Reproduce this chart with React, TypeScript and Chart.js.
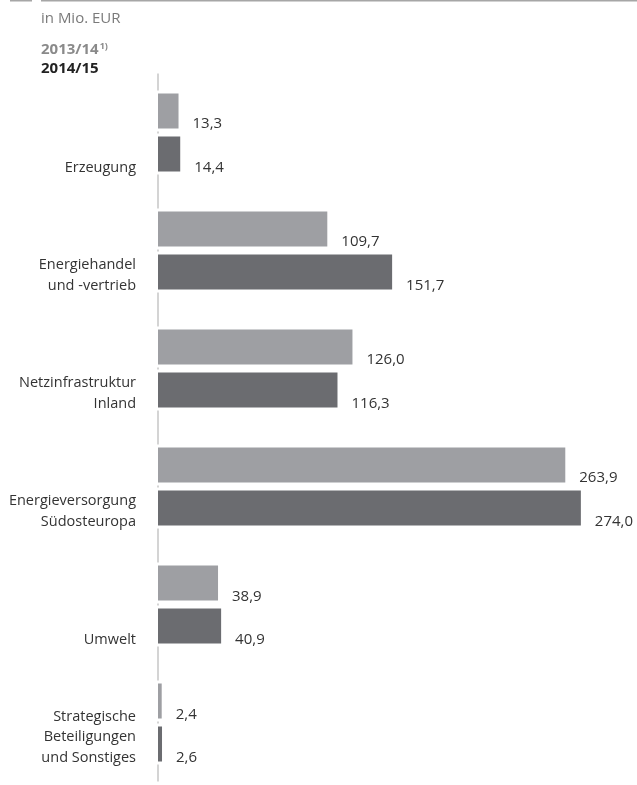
import { useEffect, useRef } from "react";
import { Chart, registerables } from "chart.js";

Chart.register(...registerables);

// Segment names (each entry is one line of the label)
const categories: string[][] = [
  ["Erzeugung"],
  ["Energiehandel", "und -vertrieb"],
  ["Netzinfrastruktur", "Inland"],
  ["Energieversorgung", "Südosteuropa"],
  ["Umwelt"],
  ["Strategische", "Beteiligungen", "und Sonstiges"],
];

// Values in Mio. EUR
const values2013_14 = [13.3, 109.7, 126.0, 263.9, 38.9, 2.4];
const values2014_15 = [14.4, 151.7, 116.3, 274.0, 40.9, 2.6];

const seriesNames = ["2013/14", "2014/15"];
const footnoteMark = "1)";
const unitLabel = "in Mio. EUR";

const LIGHT = "#9e9fa3";
const DARK = "#6b6c70";
const AXIS = "#b8b8b8";
const TEXT = "#333333";
const FONT = "'Open Sans', 'Noto Sans', sans-serif";

const fmt = (v: number) => v.toFixed(1).replace(".", ",");

const decorPlugin = {
  id: "decor",
  beforeDatasetsDraw(chart: any) {
    const { ctx, chartArea } = chart;
    ctx.save();
    // vertical base line
    ctx.strokeStyle = AXIS;
    ctx.lineWidth = 1.2;
    ctx.beginPath();
    ctx.moveTo(chartArea.left, chartArea.top);
    ctx.lineTo(chartArea.left, chartArea.bottom);
    ctx.stroke();
    // small white breaks in the base line around every bar
    ctx.fillStyle = "#ffffff";
    chart.data.datasets.forEach((_: any, di: number) => {
      chart.getDatasetMeta(di).data.forEach((bar: any) => {
        const p = bar.getProps(["y", "height"], true);
        ctx.fillRect(chartArea.left - 3, p.y - p.height / 2 - 3, 6, p.height + 6);
      });
    });
    ctx.restore();
  },
  afterDatasetsDraw(chart: any) {
    const { ctx, chartArea } = chart;
    ctx.save();
    // value labels, baseline on the bar's lower edge
    ctx.fillStyle = TEXT;
    ctx.font = `15px ${FONT}`;
    ctx.textAlign = "left";
    ctx.textBaseline = "alphabetic";
    chart.data.datasets.forEach((ds: any, di: number) => {
      chart.getDatasetMeta(di).data.forEach((bar: any, i: number) => {
        const p = bar.getProps(["x", "y", "height"], true);
        ctx.fillText(fmt(ds.data[i]), p.x + 14, p.y + p.height / 2);
      });
    });
    // category labels, last line aligned with the lower bar's bottom edge
    ctx.font = `14.5px ${FONT}`;
    ctx.textAlign = "right";
    const lower = chart.getDatasetMeta(1).data;
    const lineH = 20.5;
    categories.forEach((lines, i) => {
      const p = lower[i].getProps(["y", "height"], true);
      const bottom = p.y + p.height / 2;
      lines.forEach((line, li) => {
        ctx.fillText(line, chartArea.left - 22, bottom - (lines.length - 1 - li) * lineH);
      });
    });
    ctx.restore();
  },
  afterDraw(chart: any) {
    const { ctx } = chart;
    ctx.save();
    // rule at the top
    ctx.fillStyle = "#a6a6a6";
    ctx.fillRect(10, 0, 22, 1.5);
    ctx.fillRect(41, 0, chart.width - 41, 1.5);
    // unit and legend text
    ctx.textAlign = "left";
    ctx.textBaseline = "alphabetic";
    ctx.fillStyle = "#7a7a7a";
    ctx.font = `15px ${FONT}`;
    ctx.fillText(unitLabel, 41, 23);
    ctx.fillStyle = "#8a8a8a";
    ctx.font = `bold 15px ${FONT}`;
    ctx.fillText(seriesNames[0], 41, 54);
    const w = ctx.measureText(seriesNames[0]).width;
    ctx.font = `bold 9px ${FONT}`;
    ctx.fillText(footnoteMark, 41 + w + 1, 49);
    ctx.fillStyle = "#222222";
    ctx.font = `bold 15px ${FONT}`;
    ctx.fillText(seriesNames[1], 41, 73);
    ctx.restore();
  },
};

export default function App() {
  const ref = useRef<HTMLCanvasElement | null>(null);

  useEffect(() => {
    if (!ref.current) return;
    const chart = new Chart(ref.current, {
      type: "bar",
      data: {
        labels: categories.map((c) => c.join(" ")),
        datasets: [
          {
            label: seriesNames[0],
            data: values2013_14,
            backgroundColor: LIGHT,
            categoryPercentage: 0.729,
            barPercentage: 0.814,
          },
          {
            label: seriesNames[1],
            data: values2014_15,
            backgroundColor: DARK,
            categoryPercentage: 0.729,
            barPercentage: 0.814,
          },
        ],
      },
      options: {
        indexAxis: "y",
        responsive: false,
        animation: false,
        devicePixelRatio: 1,
        layout: { padding: { left: 158, top: 73.5, right: 16, bottom: 3.5 } },
        plugins: { legend: { display: false }, tooltip: { enabled: false } },
        scales: {
          x: { display: false, min: 0, max: 300 },
          y: { display: false },
        },
      },
      plugins: [decorPlugin],
    });
    return () => chart.destroy();
  }, []);

  return (
    <div style={{ position: "fixed", left: 0, top: 0, width: 637, height: 785, background: "#fff" }}>
      <canvas ref={ref} width={637} height={785} style={{ display: "block" }} />
    </div>
  );
}
